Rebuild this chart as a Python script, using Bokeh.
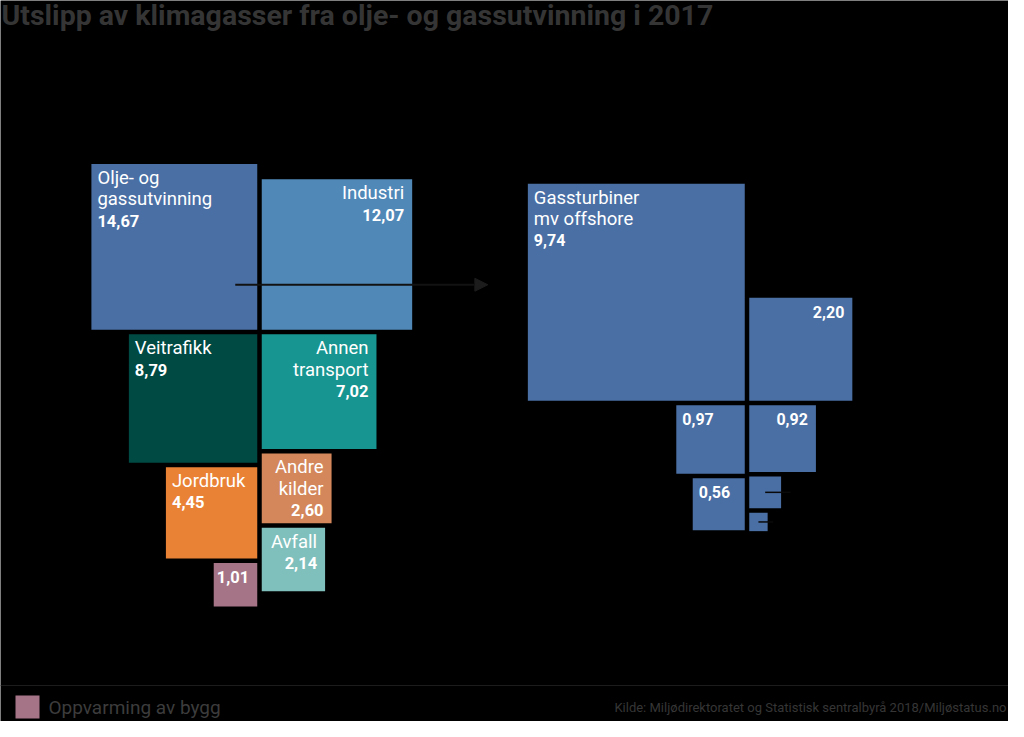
from bokeh.plotting import figure
from bokeh.models import Range1d, Arrow, NormalHead, Span, ColumnDataSource
from bokeh.core.properties import value
from bokeh.embed import file_html
from bokeh.resources import INLINE
import math

# ---------------- data ----------------
title_text = "Utslipp av klimagasser fra olje- og gassutvinning  i 2017"
source_text = "Kilde: Miljødirektoratet og Statistisk sentralbyrå 2018/Miljøstatus.no"

categories = ["Olje- og\ngassutvinning", "Industri", "Veitrafikk", "Annen\ntransport",
              "Jordbruk", "Andre\nkilder", "Avfall", ""]
values = [14.67, 12.07, 8.79, 7.02, 4.45, 2.60, 2.14, 1.01]
legend_label = "Oppvarming av bygg"

offshore_labels = ["Gassturbiner\nmv offshore", "", "", "", "", "", ""]
offshore_values = [9.74, 2.20, 0.97, 0.92, 0.56, 0.21, 0.07]
offshore_show_value = [True, True, True, True, True, False, False]

# ---------------- styles / layout ----------------
colors = ["#4a6fa5", "#5088b8", "#004a44", "#179590", "#ea8236", "#d3875b", "#7fbfbc", "#a57487"]
offshore_color = "#4a6fa5"

left_layout = [("L", 0), ("R", 0), ("L", 1), ("R", 1), ("L", 2), ("R", 2), ("R", 3), ("L", 3)]
left_align = ["left", "right", "left", "right", "left", "right", "right", "right"]
right_layout = [("L", 0), ("R", 0), ("L", 1), ("R", 1), ("L", 2), ("R", 2), ("R", 3)]
right_align = ["left", "right", "left", "right", "left", "right", "right"]

K_LEFT = 43.3     # px per sqrt(unit)
K_RIGHT = 69.5
GAP = 4.5
LEFT_CENTRE = (259.0, 331.5)
RIGHT_CENTRE = (746.5, 402.5)


def pack(vals, layout, k, centre):
    cx, cy = centre
    rects = []
    bottoms = {"L": cy + GAP / 2, "R": cy + GAP / 2}
    for v, (col, row) in zip(vals, layout):
        s = k * math.sqrt(v)
        if col == "L":
            x1, x0 = cx - GAP / 2, cx - GAP / 2 - s
        else:
            x0, x1 = cx + GAP / 2, cx + GAP / 2 + s
        if row == 0:
            y1 = cy - GAP / 2
            y0 = y1 - s
        else:
            y0 = bottoms[col]
            y1 = y0 + s
            bottoms[col] = y1 + GAP
        rects.append((x0, x1, y0, y1))
    return rects


def fmt(v):
    return f"{v:.2f}".replace(".", ",")


p = figure(width=1008, height=721, output_backend="svg", toolbar_location=None,
           x_range=Range1d(0, 1008), y_range=Range1d(721, 0),
           background_fill_color="black", border_fill_color="black",
           min_border=0, outline_line_color=None)
p.axis.visible = False
p.grid.visible = False

FONT = value("Roboto")


def draw_cluster(vals, labels, show_vals, layout, aligns, k, centre, cols, lsize, vsize):
    rects = pack(vals, layout, k, centre)
    src = ColumnDataSource(dict(
        left=[r[0] for r in rects], right=[r[1] for r in rects],
        top=[r[2] for r in rects], bottom=[r[3] for r in rects], color=cols))
    p.quad(left="left", right="right", top="top", bottom="bottom", fill_color="color",
           line_color=None, source=src)
    lh = 21.3
    for (x0, x1, y0, y1), lab, v, sv, al in zip(rects, labels, vals, show_vals, aligns):
        tx = x0 + 6 if al == "left" else x1 - 8
        ty = y0 + 14
        lines = lab.split("\n") if lab else []
        for i, ln in enumerate(lines):
            p.text(x=[tx], y=[ty + i * lh], text=[ln], text_font=FONT, text_font_size=f"{lsize}px",
                   text_color="white", text_align=al, text_baseline="middle")
        if sv:
            p.text(x=[tx], y=[ty + len(lines) * lh], text=[fmt(v)], text_font=FONT,
                   text_font_size=f"{vsize}px", text_font_style="bold",
                   text_color="white", text_align=al, text_baseline="middle")
    return rects


lrects = draw_cluster(values, categories, [True] * len(values), left_layout, left_align,
                      K_LEFT, LEFT_CENTRE, colors, 18.5, 16.5)
rrects = draw_cluster(offshore_values, offshore_labels, offshore_show_value, right_layout,
                      right_align, K_RIGHT, RIGHT_CENTRE, [offshore_color] * len(offshore_values),
                      18.5, 16)

# leader lines in the smallest squares
for (x0, x1, y0, y1), sv in zip(rrects, offshore_show_value):
    if not sv:
        s = x1 - x0
        p.segment(x0=[(x0 + x1) / 2], y0=[(y0 + y1) / 2], x1=[x1 + 0.3 * s], y1=[(y0 + y1) / 2],
                  line_color="#0a0a0a", line_width=1.5)

# arrow from oil & gas to breakdown
ox0, ox1, oy0, oy1 = lrects[0]
bx0 = rrects[0][0]
p.add_layout(Arrow(end=NormalHead(size=13, fill_color="#1c1c1c", line_color="#1c1c1c"),
                   x_start=ox1 - 22, y_start=oy1 - 45, x_end=bx0 - 40, y_end=oy1 - 45,
                   line_color="#121212", line_width=2))

# title
p.text(x=[1], y=[15], text=[title_text], text_font=FONT,
       text_font_size="28.5px", text_font_style="bold", text_color="#353535",
       text_baseline="middle", text_align="left")

# footer line
p.add_layout(Span(location=685, dimension="width", line_color="#1c1c1c", line_width=1))

# legend
p.quad(left=[15], right=[39], top=[695], bottom=[718], fill_color=colors[-1], line_color=None)
p.text(x=[48], y=[707], text=[legend_label], text_font=FONT, text_font_size="19px",
       text_color="#3c3c3c", text_baseline="middle", text_align="left")

# source
p.text(x=[1006], y=[707], text=[source_text], text_font=FONT,
       text_font_size="13px", text_color="#363636",
       text_baseline="middle", text_align="right")

open("out.html", "w").write(file_html(p, INLINE))
